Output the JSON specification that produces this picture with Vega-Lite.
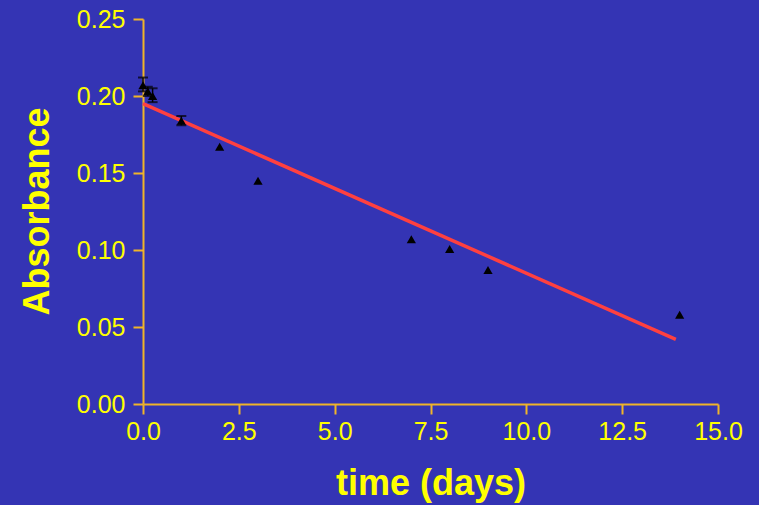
{
  "$schema": "https://vega.github.io/schema/vega-lite/v6.json",
  "width": 575,
  "height": 385,
  "autosize": {"type": "none"},
  "padding": {"left": 143, "top": 19, "right": 41, "bottom": 101},
  "background": "#3434b4",
  "config": {
    "view": {"stroke": null},
    "font": "Liberation Sans",
    "axis": {
      "grid": false,
      "domainColor": "#f0b429",
      "tickColor": "#f0b429",
      "domainWidth": 2,
      "tickWidth": 2,
      "tickSize": 10,
      "labelFlush": false,
      "labelOverlap": false,
      "labelColor": "#ffff00",
      "labelFont": "Liberation Sans",
      "labelFontSize": 25,
      "titleColor": "#ffff00",
      "titleFont": "Liberation Sans",
      "titleFontSize": 36,
      "titleFontWeight": "bold"
    }
  },
  "datasets": {
    "pts": [
      {"t": 0, "abs": 0.207, "lo": 0.203, "hi": 0.212},
      {"t": 0.125, "abs": 0.203, "lo": 0.2, "hi": 0.206},
      {"t": 0.25, "abs": 0.2, "lo": 0.196, "hi": 0.205},
      {"t": 1, "abs": 0.184, "lo": 0.181, "hi": 0.187},
      {"t": 2, "abs": 0.167, "lo": null, "hi": null},
      {"t": 3, "abs": 0.145, "lo": null, "hi": null},
      {"t": 7, "abs": 0.107, "lo": null, "hi": null},
      {"t": 8, "abs": 0.1006, "lo": null, "hi": null},
      {"t": 9, "abs": 0.087, "lo": null, "hi": null},
      {"t": 14, "abs": 0.058, "lo": null, "hi": null}
    ],
    "fit": [
      {"t": 0, "abs": 0.195},
      {"t": 13.9, "abs": 0.042}
    ]
  },
  "layer": [
    {
      "data": {"name": "fit"},
      "mark": {"type": "line", "color": "#ff4040", "strokeWidth": 3.5},
      "encoding": {
        "x": {"field": "t", "type": "quantitative", "scale": {"domain": [0, 15], "nice": false},
          "axis": {"title": "time (days)", "values": [0, 2.5, 5, 7.5, 10, 12.5, 15], "format": ".1f", "labelPadding": 5, "titleY": 90, "titleBaseline": "alphabetic"}},
        "y": {"field": "abs", "type": "quantitative", "scale": {"domain": [0, 0.25], "nice": false},
          "axis": {"title": "Absorbance", "values": [0, 0.05, 0.1, 0.15, 0.2, 0.25], "format": ".2f", "labelPadding": 8, "titleX": -106, "titleY": 192, "titleAngle": -90, "titleBaseline": "middle", "titleAlign": "center"}}
      }
    },
    {
      "data": {"name": "pts"},
      "transform": [{"filter": "datum.lo != null"}],
      "mark": {"type": "rule", "color": "black", "strokeWidth": 1.5},
      "encoding": {
        "x": {"field": "t", "type": "quantitative"},
        "y": {"field": "lo", "type": "quantitative"},
        "y2": {"field": "hi"}
      }
    },
    {
      "data": {"name": "pts"},
      "transform": [{"filter": "datum.lo != null"}],
      "mark": {"type": "tick", "color": "black", "orient": "horizontal", "size": 10, "thickness": 2},
      "encoding": {
        "x": {"field": "t", "type": "quantitative"},
        "y": {"field": "lo", "type": "quantitative"}
      }
    },
    {
      "data": {"name": "pts"},
      "transform": [{"filter": "datum.lo != null"}],
      "mark": {"type": "tick", "color": "black", "orient": "horizontal", "size": 10, "thickness": 2},
      "encoding": {
        "x": {"field": "t", "type": "quantitative"},
        "y": {"field": "hi", "type": "quantitative"}
      }
    },
    {
      "data": {"name": "pts"},
      "mark": {"type": "point", "shape": "triangle-up", "filled": true, "color": "black", "size": 85, "opacity": 1},
      "encoding": {
        "x": {"field": "t", "type": "quantitative"},
        "y": {"field": "abs", "type": "quantitative"}
      }
    }
  ]
}
